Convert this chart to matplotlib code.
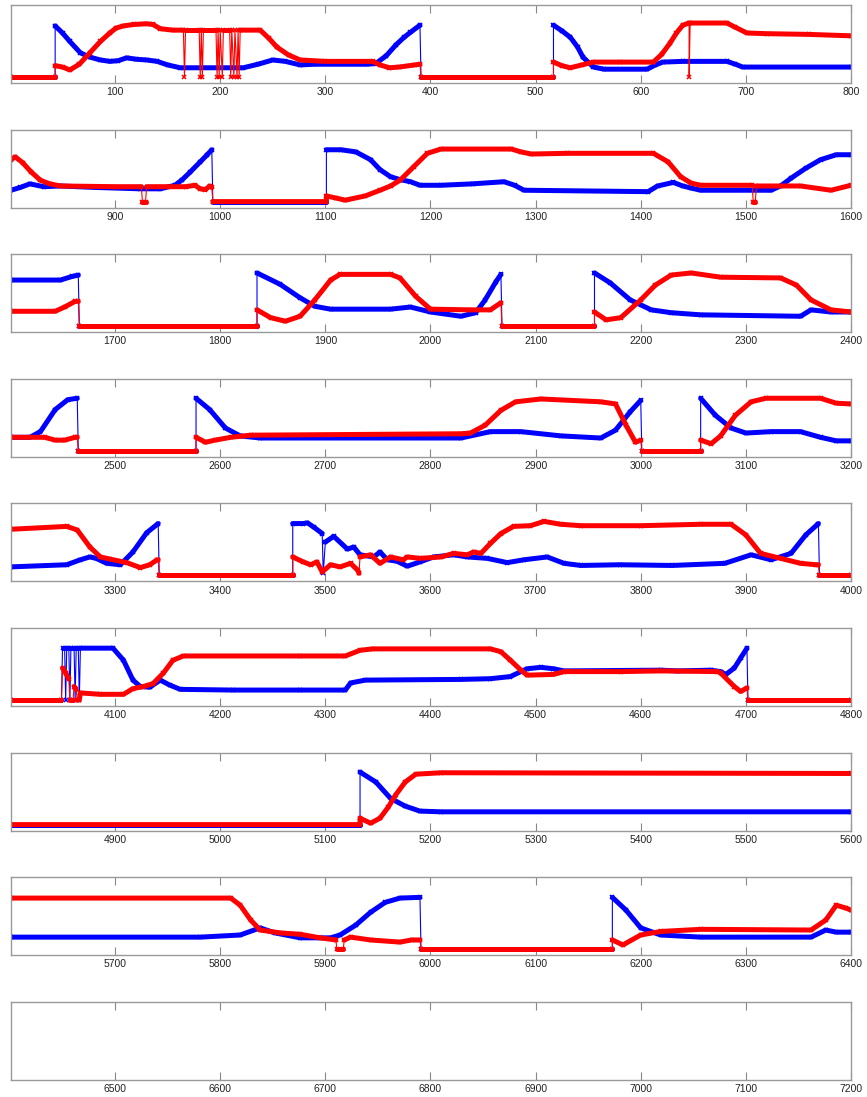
import numpy as np
import matplotlib
matplotlib.use("Agg")
import matplotlib.pyplot as plt

plt.rcParams['font.family'] = ['Liberation Sans', 'DejaVu Sans']

# samples per panel row
PANEL_LEN = 800
N_PANELS = 9

# (x, value) vertices, one list per row and series
blue_1 = [(1, 0), (43, 0), (43, 0.72), (50, 0.62), (57, 0.50), (67, 0.34), (76, 0.28), (86, 0.24), (95, 0.22),
          (103, 0.23), (111, 0.27), (120, 0.25), (130, 0.24), (140, 0.22), (150, 0.17), (162, 0.13), (222, 0.13),
          (236, 0.18), (250, 0.24), (262, 0.22), (276, 0.17), (290, 0.18), (340, 0.18), (348, 0.19), (358, 0.30),
          (367, 0.45), (375, 0.56), (381, 0.63), (390, 0.73), (391, 0), (517, 0), (517, 0.73), (525, 0.65),
          (533, 0.56), (540, 0.42), (545, 0.28), (555, 0.14), (565, 0.11), (606, 0.11), (614, 0.17), (621, 0.21),
          (640, 0.22), (682, 0.22), (690, 0.18), (697, 0.14), (800, 0.14)]
red_1 = [(1, 0), (43, 0), (43, 0.16), (50, 0.14), (57, 0.10), (66, 0.18), (76, 0.34), (86, 0.50), (95, 0.62),
         (101, 0.69), (108, 0.72), (118, 0.74), (130, 0.75), (136, 0.74), (143, 0.68), (155, 0.66), (165, 0.66),
         (166, 0), (167, 0.66), (180, 0.66), (181, 0), (182, 0.66), (183, 0), (184, 0.66), (196, 0.66), (197, 0),
         (198, 0.66), (199, 0), (200, 0.66), (202, 0), (203, 0.66), (209, 0.66), (210, 0), (211, 0.66), (213, 0),
         (214, 0.66), (216, 0), (217, 0.66), (218, 0), (219, 0.66), (238, 0.66), (246, 0.55), (254, 0.42),
         (265, 0.31), (276, 0.24), (300, 0.22), (345, 0.22), (352, 0.17), (361, 0.13), (370, 0.14), (385, 0.17),
         (390, 0.18), (391, 0), (517, 0), (517, 0.21), (525, 0.16), (533, 0.13), (544, 0.17), (555, 0.21),
         (580, 0.21), (612, 0.21), (620, 0.32), (628, 0.48), (634, 0.62), (640, 0.73), (646, 0.76), (646, 0),
         (647, 0.76), (682, 0.76), (690, 0.70), (701, 0.62), (720, 0.61), (760, 0.60), (800, 0.58)]

blue_2 = [(801, 0.16), (810, 0.20), (819, 0.25), (832, 0.21), (848, 0.22), (880, 0.20), (924, 0.18), (943, 0.18),
          (957, 0.23), (964, 0.31), (971, 0.41), (981, 0.56), (987, 0.65), (992, 0.73), (993, 0), (1101, 0),
          (1101, 0.73), (1115, 0.73), (1129, 0.70), (1143, 0.59), (1152, 0.45), (1162, 0.35), (1171, 0.31),
          (1181, 0.28), (1190, 0.23), (1210, 0.23), (1240, 0.25), (1270, 0.28), (1280, 0.23), (1289, 0.16),
          (1407, 0.14), (1416, 0.22), (1431, 0.27), (1440, 0.22), (1448, 0.19), (1457, 0.16), (1524, 0.16),
          (1533, 0.22), (1543, 0.33), (1557, 0.47), (1571, 0.59), (1586, 0.66), (1600, 0.66)]
red_2 = [(801, 0.59), (805, 0.63), (812, 0.55), (820, 0.42), (829, 0.30), (838, 0.25), (848, 0.22), (900, 0.21),
         (925, 0.21), (926, 0), (929, 0), (930, 0.21), (967, 0.21), (976, 0.23), (981, 0.18), (986, 0.17),
         (990, 0.22), (992, 0.20), (993, 0), (1101, 0), (1101, 0.08), (1110, 0.05), (1119, 0.02), (1138, 0.08),
         (1152, 0.16), (1162, 0.22), (1171, 0.30), (1184, 0.49), (1197, 0.68), (1210, 0.74), (1277, 0.74),
         (1286, 0.70), (1296, 0.67), (1330, 0.68), (1412, 0.68), (1426, 0.56), (1438, 0.35), (1448, 0.26),
         (1457, 0.23), (1506, 0.23), (1507, 0), (1509, 0), (1510, 0.22), (1552, 0.22), (1581, 0.16), (1600, 0.23)]

blue_3 = [(1601, 0.65), (1648, 0.65), (1659, 0.70), (1665, 0.72), (1666, 0), (1835, 0), (1835, 0.75), (1857, 0.59),
          (1876, 0.40), (1890, 0.28), (1905, 0.24), (1962, 0.24), (1981, 0.27), (2000, 0.20), (2029, 0.14),
          (2043, 0.19), (2052, 0.37), (2062, 0.62), (2067, 0.73), (2068, 0), (2156, 0), (2156, 0.75), (2171, 0.61),
          (2190, 0.37), (2210, 0.23), (2229, 0.19), (2257, 0.16), (2352, 0.14), (2362, 0.23), (2381, 0.20),
          (2400, 0.20)]
red_3 = [(1601, 0.21), (1643, 0.21), (1652, 0.27), (1662, 0.35), (1665, 0.35), (1666, 0), (1835, 0), (1835, 0.23),
         (1848, 0.12), (1862, 0.07), (1876, 0.14), (1890, 0.37), (1905, 0.65), (1914, 0.73), (1962, 0.73),
         (1971, 0.68), (1986, 0.42), (2000, 0.24), (2038, 0.23), (2057, 0.23), (2067, 0.33), (2068, 0), (2156, 0),
         (2156, 0.20), (2167, 0.09), (2181, 0.12), (2200, 0.37), (2214, 0.58), (2229, 0.72), (2248, 0.75),
         (2276, 0.69), (2333, 0.68), (2348, 0.58), (2362, 0.37), (2381, 0.23), (2400, 0.20)]

blue_4 = [(2401, 0.19), (2419, 0.19), (2429, 0.27), (2443, 0.58), (2455, 0.72), (2464, 0.74), (2465, 0), (2577, 0),
          (2577, 0.74), (2590, 0.58), (2605, 0.32), (2619, 0.21), (2638, 0.18), (2829, 0.18), (2857, 0.27),
          (2886, 0.27), (2924, 0.21), (2962, 0.18), (2976, 0.29), (2990, 0.55), (3000, 0.71), (3001, 0), (3057, 0),
          (3057, 0.74), (3071, 0.50), (3086, 0.32), (3100, 0.25), (3124, 0.27), (3152, 0.27), (3171, 0.19),
          (3186, 0.14), (3200, 0.14)]
red_4 = [(2401, 0.19), (2433, 0.19), (2443, 0.15), (2452, 0.15), (2462, 0.19), (2464, 0.19), (2465, 0), (2577, 0),
         (2577, 0.19), (2586, 0.12), (2595, 0.15), (2610, 0.19), (2629, 0.22), (2829, 0.24), (2838, 0.25),
         (2852, 0.36), (2867, 0.57), (2881, 0.69), (2905, 0.73), (2962, 0.69), (2976, 0.66), (2986, 0.36),
         (2995, 0.12), (3000, 0.15), (3001, 0), (3057, 0), (3057, 0.15), (3067, 0.10), (3076, 0.21), (3090, 0.50),
         (3105, 0.69), (3119, 0.74), (3171, 0.74), (3186, 0.67), (3200, 0.66)]

blue_5 = [(3201, 0.12), (3254, 0.15), (3267, 0.22), (3276, 0.26), (3282, 0.24), (3292, 0.17), (3305, 0.15),
          (3317, 0.33), (3330, 0.60), (3341, 0.73), (3342, 0), (3469, 0), (3469, 0.73), (3479, 0.73), (3483, 0.74),
          (3489, 0.68), (3497, 0.59), (3498, 0.03), (3500, 0.47), (3508, 0.55), (3521, 0.37), (3527, 0.40),
          (3533, 0.29), (3546, 0.26), (3552, 0.33), (3559, 0.22), (3568, 0.20), (3578, 0.13), (3590, 0.19),
          (3603, 0.26), (3622, 0.29), (3635, 0.26), (3654, 0.24), (3673, 0.18), (3689, 0.22), (3711, 0.26),
          (3727, 0.17), (3743, 0.14), (3780, 0.15), (3830, 0.14), (3880, 0.17), (3905, 0.29), (3924, 0.22),
          (3943, 0.31), (3957, 0.57), (3969, 0.73), (3970, 0), (4000, 0)]
red_5 = [(3201, 0.65), (3254, 0.69), (3264, 0.64), (3276, 0.40), (3286, 0.26), (3295, 0.23), (3311, 0.18),
         (3324, 0.11), (3333, 0.15), (3340, 0.22), (3341, 0.22), (3342, 0), (3469, 0), (3469, 0.26), (3479, 0.19),
         (3486, 0.15), (3492, 0.19), (3497, 0.05), (3505, 0.15), (3514, 0.12), (3524, 0.17), (3531, 0.07),
         (3532, 0.03), (3533, 0.26), (3543, 0.29), (3552, 0.17), (3562, 0.26), (3574, 0.22), (3578, 0.26),
         (3590, 0.24), (3610, 0.26), (3622, 0.31), (3635, 0.29), (3641, 0.33), (3648, 0.31), (3657, 0.45),
         (3667, 0.59), (3679, 0.69), (3695, 0.70), (3708, 0.76), (3724, 0.72), (3743, 0.70), (3800, 0.70),
         (3857, 0.72), (3886, 0.72), (3900, 0.57), (3914, 0.31), (3933, 0.24), (3952, 0.17), (3967, 0.15),
         (3969, 0.15), (3970, 0), (4000, 0)]

blue_6 = [(4001, 0), (4049, 0), (4050, 0.73), (4052, 0.73), (4053, 0), (4054, 0.73), (4056, 0.73), (4057, 0),
          (4058, 0.73), (4061, 0.73), (4062, 0), (4063, 0.73), (4065, 0.73), (4066, 0), (4067, 0.73), (4098, 0.73),
          (4108, 0.56), (4117, 0.28), (4124, 0.19), (4133, 0.18), (4143, 0.28), (4152, 0.21), (4162, 0.15),
          (4212, 0.14), (4276, 0.14), (4319, 0.14), (4324, 0.24), (4338, 0.28), (4429, 0.29), (4457, 0.30),
          (4476, 0.33), (4486, 0.40), (4492, 0.44), (4505, 0.46), (4517, 0.44), (4527, 0.41), (4619, 0.42),
          (4635, 0.41), (4667, 0.42), (4676, 0.40), (4681, 0.36), (4689, 0.45), (4695, 0.59), (4701, 0.73),
          (4702, 0), (4800, 0)]
red_6 = [(4001, 0), (4049, 0), (4050, 0.45), (4053, 0.38), (4056, 0.30), (4057, 0), (4060, 0), (4061, 0.19),
         (4063, 0.15), (4064, 0), (4066, 0), (4067, 0.10), (4086, 0.08), (4108, 0.08), (4117, 0.16), (4127, 0.19),
         (4136, 0.23), (4146, 0.38), (4155, 0.56), (4165, 0.62), (4276, 0.62), (4319, 0.62), (4333, 0.70),
         (4345, 0.72), (4457, 0.72), (4467, 0.68), (4476, 0.56), (4486, 0.42), (4492, 0.35), (4517, 0.36),
         (4527, 0.40), (4581, 0.40), (4619, 0.41), (4673, 0.40), (4676, 0.38), (4689, 0.19), (4695, 0.12),
         (4701, 0.17), (4702, 0), (4800, 0)]

blue_7 = [(4801, 0), (5133, 0), (5133, 0.74), (5148, 0.60), (5162, 0.37), (5176, 0.26), (5190, 0.19), (5210, 0.18),
          (5600, 0.18)]
red_7 = [(4801, 0), (5133, 0), (5133, 0.09), (5143, 0.02), (5152, 0.09), (5160, 0.25), (5167, 0.42), (5176, 0.60),
         (5186, 0.71), (5210, 0.73), (5600, 0.72)]

blue_8 = [(5601, 0.17), (5781, 0.17), (5819, 0.20), (5838, 0.30), (5852, 0.23), (5876, 0.16), (5905, 0.16),
          (5914, 0.20), (5929, 0.34), (5943, 0.52), (5957, 0.66), (5971, 0.72), (5990, 0.73), (5991, 0), (6173, 0),
          (6173, 0.73), (6186, 0.55), (6200, 0.30), (6219, 0.20), (6257, 0.17), (6362, 0.17), (6376, 0.27),
          (6386, 0.24), (6400, 0.24)]
red_8 = [(5601, 0.72), (5810, 0.72), (5819, 0.62), (5829, 0.41), (5838, 0.27), (5857, 0.23), (5876, 0.21),
         (5895, 0.16), (5910, 0.13), (5911, 0), (5917, 0), (5918, 0.13), (5924, 0.17), (5943, 0.13), (5971, 0.10),
         (5982, 0.13), (5990, 0.13), (5991, 0), (6173, 0), (6173, 0.13), (6183, 0.06), (6200, 0.20), (6219, 0.25),
         (6257, 0.28), (6362, 0.27), (6376, 0.41), (6386, 0.62), (6395, 0.58), (6400, 0.55)]

blue = np.array(blue_1 + blue_2 + blue_3 + blue_4 + blue_5 + blue_6 + blue_7 + blue_8, dtype=float)
red = np.array(red_1 + red_2 + red_3 + red_4 + red_5 + red_6 + red_7 + red_8, dtype=float)


def draw_series(ax, pts, color, lo, hi):
    # only the samples that belong to this row, so no stray markers at the edges
    keep = (pts[:, 0] >= lo) & (pts[:, 0] <= hi)
    x, y = pts[keep, 0], pts[keep, 1]
    if len(x) == 0:
        return
    # thin connecting line, also carries the vertical jumps
    ax.plot(x, y, color=color, lw=0.8)
    # thick band of markers, broken at the jumps
    jump = (np.diff(x) <= 2) & (np.abs(np.diff(y)) > 0.1)
    cut = np.where(jump)[0] + 1
    for xs, ys in zip(np.split(x, cut), np.split(y, cut)):
        ax.plot(xs, ys, color=color, lw=3.6, marker='x', ms=3.5, mew=1.1,
                solid_capstyle='round', solid_joinstyle='round')


W, H = 867, 1097
fig = plt.figure(figsize=(W / 100, H / 100), dpi=100)

for k in range(N_PANELS):
    top = 5 + 124.6 * k
    ax = fig.add_axes([11 / W, 1 - (top + 78) / H, 840 / W, 78 / H])
    x0 = k * PANEL_LEN
    draw_series(ax, blue, 'blue', x0 + 1, x0 + PANEL_LEN)
    draw_series(ax, red, 'red', x0 + 1, x0 + PANEL_LEN)
    ax.set_xlim(x0 + 1, x0 + PANEL_LEN)
    ax.set_ylim(-0.0845, 1.014)
    ax.set_xticks(np.arange(x0 + 100, x0 + PANEL_LEN + 1, 100))
    ax.set_yticks([])
    ax.tick_params(axis='x', direction='in', top=True, length=5.5, width=0.8,
                   color='#888888', labelsize=7.5, labelcolor='#222222', pad=3)
    for s in ax.spines.values():
        s.set_color('#999999')
        s.set_linewidth(1.0)

fig.savefig('out.png', dpi=100)
